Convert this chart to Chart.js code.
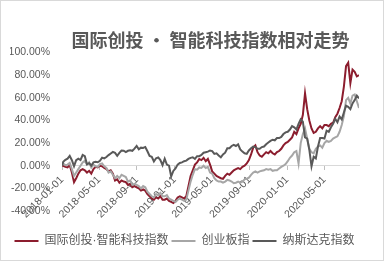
<!DOCTYPE html>
<html>
<head>
<meta charset="utf-8">
<script src="https://cdn.jsdelivr.net/npm/chart.js@4/dist/chart.umd.min.js"></script>
<style>
  html, body { margin: 0; padding: 0; background: #fff; }
  canvas { display: block; }
</style>
</head>
<body>
<canvas id="trendChart" width="384" height="261"></canvas>
<script>
// base day, then weekly (Friday) readings
const baseDate = '2018-01-01';
const firstWeek = '2018-01-05';
const weekCount = 138;

const tickLabels = ['2018-01-01', '2018-05-01', '2018-09-01', '2019-01-01',
    '2019-05-01', '2019-09-01', '2020-01-01', '2020-05-01'];

const seriesNames = ['国际创投·智能科技指数', '创业板指', '纳斯达克指数'];

// 国际创投·智能科技指数 (%)
const techIndex = [
    0, 0, -1, -1.5, 0.5, -6, -14.5, -11, -7, -4, -3, -4, -6, -4.5, -7, -3, -1, -1.5, 0, -0.5, -2, -3, -5, -4, -7, -13, -12,
    -15, -13, -14, -14.5, -17, -16, -19, -18, -19, -20, -22, -21, -22, -25, -27, -29, -30, -28, -29, -27, -30, -30, -29, -31, -32, -33,
    -31, -28, -27, -28, -29, -27, -18, -9, -4, 1, 3, 6, 5, 7, 4, 6, 1, -5, -7, -9, -10, -11, -11.5, -9, -7, -8,
    -6, -4, -3, -2, -3, -1, 0, 2, 5, 10, 16, 18, 12, 9, 8, 10, 12, 11, 13, 11, 10, 12, 13, 15, 18, 20,
    21, 23, 25, 30, 28, 33, 37, 45, 64, 50, 40, 33, 29, 30, 33, 35, 33, 36, 36, 35, 37, 38, 43, 46, 51, 57,
    70, 88, 91, 73, 85, 83, 79, 80
];

// 创业板指 (%)
const chinext = [
    0, 2, 0.5, 1, 2.5, -3, -9, -6, -3, 0, 3, 4.5, 1, 3, -1.5, 1, -0.5, -1, 1.5, 2, -0.5, -2, -6, -5, -8, -11, -9,
    -11, -8, -9, -10, -14, -13, -17, -16, -17, -18, -20, -18, -19, -23, -25, -27, -28, -25, -26, -24, -27, -27, -26, -29, -30, -31,
    -32, -30, -29, -30, -31, -30, -22, -14, -8, -3, -3.5, -1.5, -2, 0, -2, -1, -6, -7, -11, -13, -14, -14, -15, -14, -12.5, -13,
    -14, -15.5, -15, -14, -15, -14, -12, -11.5, -10.5, -8, -6, -5, -6, -5, -4.5, -4, -3, -3.5, -3, -4.5, -4, -4, -2.5, -1, 0, 1.5,
    4, 7, 9, 12, 13, 2, 20, 28, 33, 24, 15, 12, 11, 15, 17, 18, 16, 20, 22, 21, 22, 24, 25, 26, 30, 36,
    44, 58, 60, 55, 62, 63, 57, 51
];

// 纳斯达克指数 (%)
const nasdaq = [
    0, 3.4, 5.2, 6.3, 8.7, 4.9, -0.4, 4.9, 6.3, 5.1, 9.5, 8.4, 1.3, 2.3, 0.2, 3.0, 3.5, 3.1, 4.4, 7.2, 6.5, 7.7, 9.4, 10.8, 12.2, 11.4, 8.8,
    11.4, 13.4, 13.3, 12.1, 13.2, 13.6, 13.2, 15.1, 17.5, 14.5, 16.0, 15.7, 16.6, 12.8, 8.6, 7.9, 3.8, 6.6, 7.3, 5.0, 0.5, 6.2, 1.0, 0.1, -9.5, -4.6,
    -2.4, 1.0, 2.5, 3, 4, 4.5, 6, 7, 7.5, 6, 8.5, 8.5, 9.5, 11.5, 12, 12.5, 13.5, 13, 10.5, 11, 9, 7.5, 10, 11.5, 15.5, 15.5,
    17.5, 18.5, 17.5, 19, 14.5, 12.5, 11, 10.5, 13.5, 15.5, 17, 16.5, 15, 15, 16.5, 17, 19, 20.5, 22, 23, 22.5, 24.5, 24.5, 25.5, 28, 29.5,
    30, 32, 35, 34, 32, 37, 41, 39, 25, 24, 14, -0.5, 8, 6.5, 17, 24.5, 24.5, 24, 31, 30, 34, 37, 41.5, 38.5, 43.5, 41,
    47, 53, 52, 50, 55, 58, 62, 59.5
];

const DAY = 86400000;
function dayOf(d) {
    return Math.round((Date.parse(d) - Date.parse(baseDate)) / DAY);
}

const dates = [baseDate];
for (let i = 0; i < weekCount; i++) {
    dates.push(new Date(Date.parse(firstWeek) + i * 7 * DAY).toISOString().slice(0, 10));
}

function points(values) {
    return dates.map((d, i) => ({ x: dayOf(d), y: values[i] }));
}

const textColor = '#595959';
const numFont = { family: 'Liberation Sans', size: 10.5 };
// legend: latin glyphs (and the narrow middle dot) from Liberation, CJK falls back
const legendFamily = '"Liberation Sans", "Noto Sans CJK SC"';
const titleFamily = '"Noto Sans CJK SC"';

const frame = {
    id: 'frame',
    beforeDraw(chart) {
        const ctx = chart.ctx;
        ctx.save();
        ctx.fillStyle = '#fff';
        ctx.fillRect(0, 0, chart.width, chart.height);
        ctx.restore();
    },
    afterDraw(chart) {
        const ctx = chart.ctx;
        ctx.save();
        ctx.strokeStyle = '#d9d9d9';
        ctx.lineWidth = 1;
        ctx.strokeRect(0.5, 0.5, chart.width - 1, chart.height - 1);
        ctx.restore();
    }
};

function lineSet(label, values, color, order) {
    return {
        label: label,
        data: points(values),
        borderColor: color,
        backgroundColor: color,
        borderWidth: 2,
        pointRadius: 0,
        tension: 0,
        xAxisID: 'x',
        order: order
    };
}

new Chart(document.getElementById('trendChart').getContext('2d'), {
    type: 'line',
    data: {
        datasets: [
            lineSet(seriesNames[0], techIndex, '#8c1d2e', 3),
            lineSet(seriesNames[1], chinext, '#a6a6a6', 2),
            lineSet(seriesNames[2], nasdaq, '#595959', 1)
        ]
    },
    options: {
        responsive: false,
        animation: false,
        devicePixelRatio: 1,
        layout: { padding: { left: 10, right: 25, top: 0, bottom: 4 } },
        scales: {
            x: {
                type: 'linear',
                position: { y: 0 },
                min: 0,
                max: dayOf(dates[dates.length - 1]),
                afterBuildTicks: function (scale) {
                    scale.ticks = tickLabels.map(t => ({ value: dayOf(t) }));
                },
                ticks: {
                    autoSkip: false,
                    maxRotation: 45,
                    minRotation: 45,
                    padding: 4,
                    color: textColor,
                    font: numFont,
                    callback: function (value) {
                        return tickLabels.find(t => dayOf(t) === value) || '';
                    }
                },
                grid: { drawOnChartArea: false, drawTicks: true, tickLength: 4, color: '#bfbfbf' },
                border: { display: true, color: '#d9d9d9', width: 1 }
            },
            pad: {
                type: 'linear',
                position: 'bottom',
                ticks: { display: false },
                grid: { display: false, drawTicks: false },
                border: { display: false },
                afterFit: function (scale) { scale.height = 21; }
            },
            y: {
                min: -40,
                max: 100,
                ticks: {
                    stepSize: 20,
                    padding: 12,
                    color: textColor,
                    font: numFont,
                    callback: v => v.toFixed(2) + '%'
                },
                grid: { display: false, drawTicks: false },
                border: { display: false },
                afterFit: function (scale) { scale.width = 52; }
            }
        },
        plugins: {
            title: {
                display: true,
                text: '国际创投 · 智能科技指数相对走势',
                fullSize: false,
                color: textColor,
                font: { family: titleFamily, size: 18, weight: 'bold' },
                padding: { top: 29, bottom: 2 }
            },
            legend: {
                position: 'bottom',
                labels: {
                    usePointStyle: true,
                    pointStyle: 'line',
                    pointStyleWidth: 24,
                    padding: 3,
                    color: textColor,
                    font: { family: legendFamily, size: 12 },
                    sort: (a, b) => a.datasetIndex - b.datasetIndex
                }
            },
            tooltip: { enabled: false }
        }
    },
    plugins: [frame]
});
</script>
</body>
</html>
